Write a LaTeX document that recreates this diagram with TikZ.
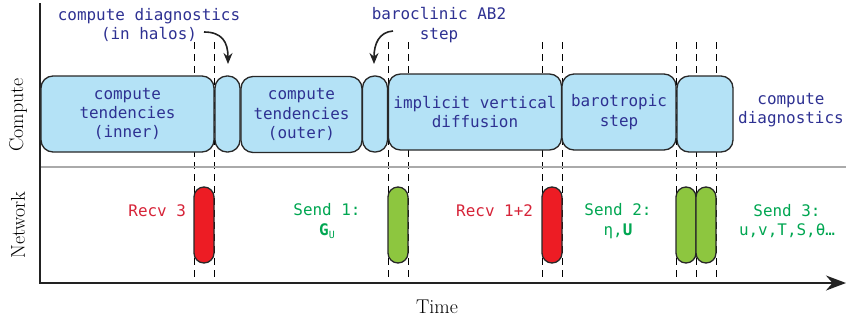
\documentclass[tikz,border=0pt]{standalone}
\usepackage{fontspec}
\setmonofont{DejaVu Sans Mono}
\usetikzlibrary{arrows.meta}

\definecolor{labelblue}{RGB}{46,49,146}
\definecolor{sendgreen}{RGB}{0,166,81}
\definecolor{recvred}{RGB}{214,35,56}
\definecolor{boxfill}{RGB}{180,226,246}
\definecolor{boxline}{RGB}{40,40,40}
\definecolor{redfill}{RGB}{237,28,36}
\definecolor{greenfill}{RGB}{141,198,63}
\definecolor{axisgray}{RGB}{34,34,34}
\definecolor{sepgray}{RGB}{170,170,170}

\begin{document}
\begin{tikzpicture}[x=1bp,y=-1bp,
  every node/.style={inner sep=0pt, outer sep=0pt},
  mono/.style={font=\ttfamily\fontsize{16}{19.5}\selectfont, align=center},
  phase/.style={draw=boxline, line width=1.3bp, fill=boxfill,
    rounded corners=12bp, minimum height=76bp},
  pill/.style={draw=boxline, line width=1.3bp, rounded corners=10bp,
    minimum width=20bp, minimum height=76bp},
  guide/.style={dash pattern=on 7bp off 5bp, line width=0.8bp},
  axislabel/.style={font=\fontsize{20}{22}\selectfont},
  timeaxis/.style={draw=axisgray, line width=1.8bp,
    -{Stealth[length=20bp,width=15bp]}},
  callout/.style={draw=axisgray, line width=1.6bp,
    -{Stealth[length=11bp,width=9bp]}},
]
\useasboundingbox (0,0) rectangle (846,323);

% dashed guides marking the start and end of each message
\foreach \x [count=\i] in {194,214,388,408,542,562,676,696,716} {
  \coordinate (gtop\i) at (\x,42);
  \coordinate (gbot\i) at (\x,283);
  \draw[guide] (gtop\i) -- (gbot\i);
}

% compute / network separator
\coordinate (sepl) at (40,167);
\coordinate (sepr) at (846,167);
\draw[sepgray, line width=1.5bp] (sepl) -- (sepr);

% axes
\coordinate (ytop) at (40,3);
\coordinate (origin) at (40,283);
\coordinate (xend) at (846,283);
\draw[timeaxis] (ytop) -- (origin) -- (xend);

% compute phases
\node[phase, minimum width=173bp, mono, text=labelblue] (inner) at (127.5,114)
  {compute\\tendencies\\(inner)};
\node[phase, minimum width=25bp] (halo1) at (227.5,114) {};
\node[phase, minimum width=121bp, mono, text=labelblue] (outer) at (301.5,114.5)
  {compute\\tendencies\\(outer)};
\node[phase, minimum width=25bp] (ab2) at (375,114) {};
\node[phase, minimum width=173bp, mono, text=labelblue] (vdiff) at (475,112)
  {implicit vertical\\diffusion};
\node[phase, minimum width=114bp, mono, text=labelblue] (btrop) at (619,112)
  {barotropic\\step};
\node[phase, minimum width=56bp] (diag) at (705,114) {};
\node[mono, text=labelblue] (diaglbl) at (791,110) {compute\\diagnostics};

% callouts above the compute row
\node[mono, text=labelblue] (halolbl) at (149,25)
  {compute diagnostics\\(in halos)};
\coordinate (c1s) at (204,32);
\coordinate (c1e) at (228,64);
\draw[callout] (c1s) .. controls (222,32) and (228,42) .. (c1e);

\node[mono, text=labelblue] (ab2lbl) at (439,25) {baroclinic AB2\\step};
\coordinate (c2s) at (393,31);
\coordinate (c2e) at (374,64);
\draw[callout] (c2s) .. controls (379,32) and (374,44) .. (c2e);

% network messages
\node[pill, fill=redfill] (recv3) at (204,225) {};
\node[pill, fill=greenfill] (send1) at (398,225) {};
\node[pill, fill=redfill] (recv12) at (552,225) {};
\node[pill, fill=greenfill] (send2) at (686,225) {};
\node[pill, fill=greenfill] (send3) at (706,225) {};

\node[mono, text=recvred, anchor=east] (recv3lbl) at (186,211) {Recv 3};
\node[mono, text=sendgreen] (send1lbl) at (327,221)
  {Send 1:\\{\bfseries G}{\fontsize{10}{10}\selectfont\raisebox{-3bp}{U}}};
\node[mono, text=recvred, anchor=east] (recv12lbl) at (533,211) {Recv 1+2};
\node[mono, text=sendgreen] (send2lbl) at (618,221) {Send 2:\\η,{\bfseries U}};
\node[mono, text=sendgreen] (send3lbl) at (787,221) {Send 3:\\u,v,T,S,θ…};

% axis titles
\node[axislabel, rotate=90] (computeax) at (18,115) {Compute};
\node[axislabel, rotate=90] (networkax) at (18,225) {Network};
\node[axislabel] (timeax) at (437,307) {Time};
\end{tikzpicture}
\end{document}
